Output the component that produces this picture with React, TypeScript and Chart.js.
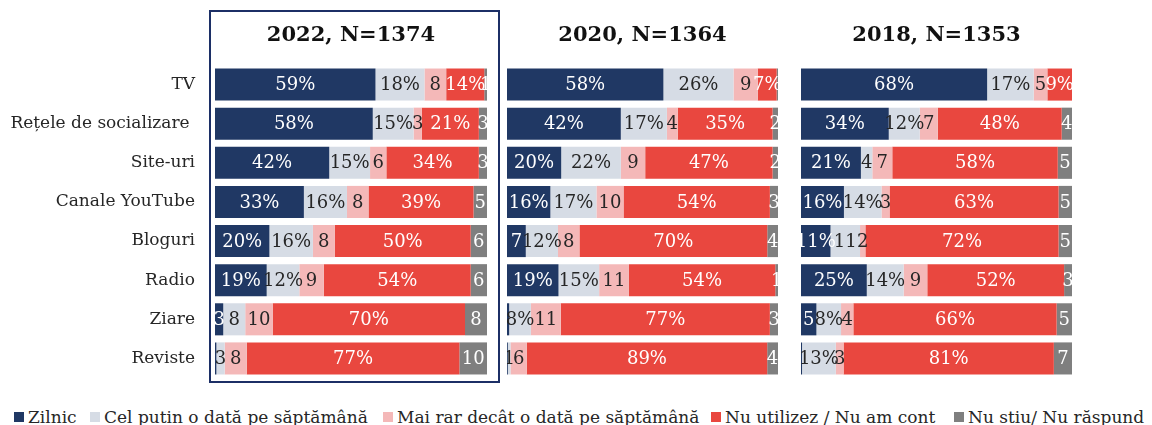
import React, { useEffect, useRef } from "react";
import { Chart, registerables } from "chart.js";

Chart.register(...registerables);

const categories = ["TV", "Rețele de socializare ", "Site-uri", "Canale YouTube", "Bloguri", "Radio", "Ziare", "Reviste"];
const seriesNames = [
  "Zilnic",
  "Cel putin o dată pe săptămână",
  "Mai rar decât o dată pe săptămână",
  "Nu utilizez / Nu am cont",
  "Nu stiu/ Nu răspund",
];
const seriesColors = ["#203864", "#d6dce5", "#f4b8b8", "#e9473f", "#7f7f7f"];
const labelColors = ["#ffffff", "#262626", "#262626", "#ffffff", "#ffffff"];

// 2022
const zilnic2022 = [59, 58, 42, 33, 20, 19, 3, 0.5];
const saptamanal2022 = [18, 15, 15, 16, 16, 12, 8, 3];
const maiRar2022 = [8, 3, 6, 8, 8, 9, 10, 8];
const nuUtilizez2022 = [14, 21, 34, 39, 50, 54, 70, 77];
const nuStiu2022 = [1, 3, 3, 5, 6, 6, 8, 10];

// 2020
const zilnic2020 = [58, 42, 20, 16, 7, 19, 0.8, 0.3];
const saptamanal2020 = [26, 17, 22, 17, 12, 15, 8, 1];
const maiRar2020 = [9, 4, 9, 10, 8, 11, 11, 6];
const nuUtilizez2020 = [7, 35, 47, 54, 70, 54, 77, 89];
const nuStiu2020 = [0.5, 2, 2, 3, 4, 1, 3, 4];

// 2018
const zilnic2018 = [68, 34, 21, 16, 11, 25, 5, 0.4];
const saptamanal2018 = [17, 12, 4, 14, 11, 14, 8, 13];
const maiRar2018 = [5, 7, 7, 3, 2, 9, 4, 3];
const nuUtilizez2018 = [9, 48, 58, 63, 72, 52, 66, 81];
const nuStiu2018 = [0, 4, 5, 5, 5, 3, 5, 7];

const panelTitles = ["2022, N=1374", "2020, N=1364", "2018, N=1353"];

// small labels that still carry a "%" sign: "panel:series:row"
const smallPercentLabels = ["1:3:0", "2:3:0", "1:1:6", "2:1:6", "2:0:4"];

const FONT = "'DejaVu Serif', serif";

const panelSeries = [
  [zilnic2022, saptamanal2022, maiRar2022, nuUtilizez2022, nuStiu2022],
  [zilnic2020, saptamanal2020, maiRar2020, nuUtilizez2020, nuStiu2020],
  [zilnic2018, saptamanal2018, maiRar2018, nuUtilizez2018, nuStiu2018],
];

const panelLayout = [
  { left: 0, width: 487, axis: true },
  { left: 507, width: 271, axis: false },
  { left: 801, width: 271, axis: false },
];

const segLabelPlugin = {
  id: "segLabels",
  afterDatasetsDraw(chart: any, _args: any, opts: any) {
    const { ctx, chartArea } = chart;
    const panel = opts.panel;
    ctx.save();
    ctx.beginPath();
    ctx.rect(chartArea.left, chartArea.top, chartArea.right - chartArea.left, chartArea.bottom - chartArea.top);
    ctx.clip();
    ctx.font = "18px " + FONT;
    ctx.textAlign = "center";
    ctx.textBaseline = "middle";
    chart.data.datasets.forEach((ds: any, di: number) => {
      const meta = chart.getDatasetMeta(di);
      meta.data.forEach((el: any, i: number) => {
        const raw = ds.rawValues[i];
        if (raw < 1) return;
        const p = el.getProps(["x", "base", "y"], true);
        const cx = (p.x + p.base) / 2;
        const pct = raw >= 12 || smallPercentLabels.includes(panel + ":" + di + ":" + i);
        const txt = String(raw) + (pct && di !== 4 ? "%" : "");
        ctx.fillStyle = labelColors[di];
        ctx.fillText(txt, cx, p.y + 1);
      });
    });
    ctx.restore();
  },
};

const panelTitlePlugin = {
  id: "panelTitle",
  afterDraw(chart: any, _args: any, opts: any) {
    const { ctx, chartArea } = chart;
    ctx.save();
    ctx.font = "bold 21px " + FONT;
    ctx.fillStyle = "#111111";
    ctx.textAlign = "center";
    ctx.textBaseline = "middle";
    ctx.fillText(opts.text, (chartArea.left + chartArea.right) / 2, 36);
    ctx.restore();
  },
};

function Panel({ index }: { index: number }) {
  const ref = useRef<HTMLCanvasElement>(null);
  useEffect(() => {
    const series = panelSeries[index];
    const layout = panelLayout[index];
    const totals = categories.map((_, i) => series.reduce((s, arr) => s + arr[i], 0));
    const chart = new Chart(ref.current!, {
      type: "bar",
      data: {
        labels: categories,
        datasets: series.map((arr, si) => ({
          label: seriesNames[si],
          data: arr.map((v, i) => (v / totals[i]) * 100),
          rawValues: arr,
          backgroundColor: seriesColors[si],
          borderWidth: 0,
          barPercentage: 0.82,
          categoryPercentage: 1,
        })) as any,
      },
      options: {
        indexAxis: "y",
        responsive: false,
        animation: false,
        devicePixelRatio: 1,
        layout: { autoPadding: false, padding: { top: 65, bottom: 0, left: 0, right: 0 } },
        scales: {
          x: { stacked: true, display: false, min: 0, max: 100 },
          y: {
            stacked: true,
            display: layout.axis,
            grid: { display: false, drawTicks: false },
            border: { display: false },
            ticks: { padding: 20, color: "#262626", font: { family: FONT, size: 17 } },
            afterFit: (s: any) => {
              s.width = layout.axis ? 215 : 0;
              s.paddingTop = 0;
              s.paddingBottom = 0;
            },
          },
        },
        plugins: {
          legend: { display: false },
          tooltip: { enabled: false },
          segLabels: { panel: index },
          panelTitle: { text: panelTitles[index] },
        } as any,
      },
      plugins: [segLabelPlugin, panelTitlePlugin],
    });
    return () => chart.destroy();
  }, [index]);
  const layout = panelLayout[index];
  return (
    <canvas
      ref={ref}
      width={layout.width}
      height={378}
      style={{ position: "absolute", left: layout.left, top: 0, width: layout.width, height: 378 }}
    />
  );
}

const legendLefts = [14, 90, 383, 711, 954];

export default function App() {
  return (
    <div
      style={{
        position: "fixed",
        left: 0,
        top: 0,
        width: 1152,
        height: 425,
        background: "#ffffff",
        fontFamily: FONT,
        overflow: "hidden",
      }}
    >
      <div
        style={{
          position: "absolute",
          left: 209,
          top: 10,
          width: 291,
          height: 373,
          border: "2px solid #1c2f66",
          boxSizing: "border-box",
        }}
      />
      <Panel index={0} />
      <Panel index={1} />
      <Panel index={2} />
      {seriesNames.map((name, i) => (
        <div
          key={name}
          style={{
            position: "absolute",
            left: legendLefts[i],
            top: 405,
            height: 23,
            display: "flex",
            alignItems: "center",
            whiteSpace: "nowrap",
            fontSize: 17,
            color: "#262626",
          }}
        >
          <span style={{ display: "inline-block", width: 10, height: 10, background: seriesColors[i], marginRight: 4 }} />
          <span>{name}</span>
        </div>
      ))}
    </div>
  );
}
